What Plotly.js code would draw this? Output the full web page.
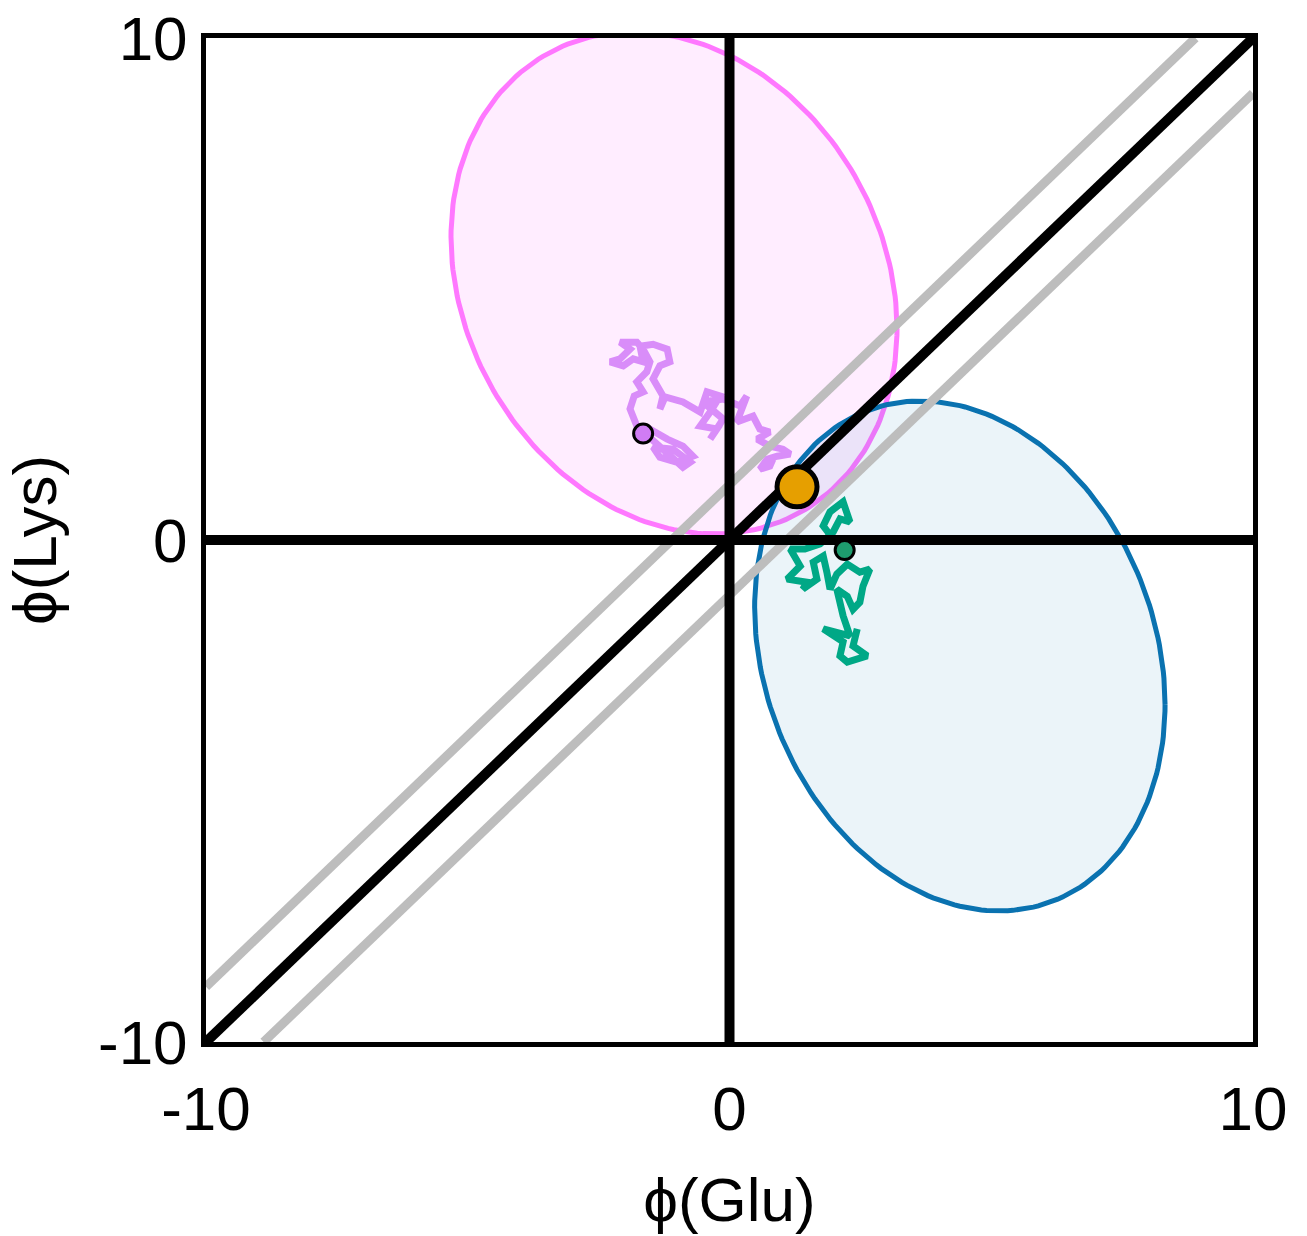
<!DOCTYPE html>
<html>
<head>
<meta charset="utf-8">
<script src="https://cdn.plot.ly/plotly-3.0.1.min.js"></script>
<style>
  html, body { margin: 0; padding: 0; background: #ffffff; }
  #chart { width: 1307px; height: 1236px; }
</style>
</head>
<body>
<div id="chart"></div>
<script>
// ---- data ----
const tickVals = [-10, 0, 10];
const tickText = ['-10', '0', '10'];

// pink (Lys-side) trajectory
const pinkTrajX = [-1.65,-1.52,-1.19,-0.89,-0.70,-1.00,-1.33,-1.46,-1.08,-0.75,-0.89,-1.18,-1.52,-1.77,-1.90,-1.82,-1.65,-1.77,-1.58,-1.52,-1.65,-1.77,-2.09,-1.90,-2.09,-2.28,-2.03,-1.84,-1.65,-1.71,-1.46,-1.19,-1.14,-1.33,-1.46,-1.27,-1.33,-1.23,-0.89,-0.56,-0.43,-0.18,-0.37,-0.56,-0.24,-0.37,-0.12,-0.51,-0.12,0.20,0.33,0.14,0.45,0.58,0.77,0.53,0.77,1.02,1.16,0.91,0.72,0.58,0.77,0.83];
const pinkTrajY = [2.15,2.21,2.01,1.87,1.67,1.55,1.65,1.85,1.81,1.55,1.45,1.71,2.01,2.27,2.61,2.87,2.95,3.15,3.35,3.55,3.80,3.94,3.94,3.80,3.61,3.55,3.47,3.61,3.55,3.86,3.90,3.80,3.55,3.47,3.21,2.87,2.61,2.85,2.75,2.55,2.95,2.87,2.55,2.27,2.21,2.01,2.41,2.75,2.81,2.67,2.87,2.35,2.47,2.21,2.15,2.01,1.87,1.81,1.71,1.67,1.61,1.41,1.47,1.61];

// green (Glu-side) trajectory
const greenTrajX = [2.21,1.98,1.79,1.92,2.17,2.30,2.11,1.98,1.73,1.44,1.16,1.35,1.10,1.48,1.40,1.67,1.60,1.79,1.86,1.92,2.05,2.25,2.49,2.68,2.55,2.49,2.36,2.25,2.05,2.17,2.30,1.79,2.17,2.11,2.25,2.63,2.36,2.44];
const greenTrajY = [-0.20,0.02,0.28,0.56,0.76,0.36,0.42,0.16,-0.08,-0.18,-0.18,-0.52,-0.78,-0.84,-0.98,-0.78,-0.44,-0.32,-0.64,-0.98,-0.68,-0.48,-0.64,-0.58,-0.92,-1.24,-1.38,-1.12,-0.98,-1.51,-1.91,-1.77,-2.03,-2.31,-2.43,-2.31,-2.11,-1.77];

// highlighted points
const pinkDot = {x: [-1.65], y: [2.12]};
const greenDot = {x: [2.20], y: [-0.20]};
const orangeDot = {x: [1.29], y: [1.06]};

// reference lines
const diagX = [-10, 10], diagY = [-10, 10];
const upperBandX = [-10, 8.9], upperBandY = [-8.9, 10];
const lowerBandX = [-8.9, 10], lowerBandY = [-10, 8.9];
const zeroHX = [-10, 10], zeroHY = [0, 0];
const zeroVX = [0, 0], zeroVY = [-10, 10];

// ellipse parameters: centre, horizontal half-extent, vertical half-extent, cross term
const pinkEllipse = {cx: -1.06, cy: 5.12, h: 4.26, v: 5.0, c: -3.9};
const blueEllipse = {cx: 4.40, cy: -2.31, h: 3.92, v: 5.08, c: -3.8};

function ellipsePts(e) {
  const xs = [], ys = [];
  const k = e.c / e.h;
  const s = Math.sqrt(e.v * e.v - k * k);
  for (let i = 0; i <= 240; i++) {
    const t = 2 * Math.PI * i / 240;
    xs.push(e.cx + e.h * Math.cos(t));
    ys.push(e.cy + k * Math.cos(t) + s * Math.sin(t));
  }
  return {x: xs, y: ys};
}

const pE = ellipsePts(pinkEllipse);
const bE = ellipsePts(blueEllipse);

const traces = [
  {x: pE.x, y: pE.y, mode: 'lines', fill: 'toself', fillcolor: 'rgba(255,110,255,0.12)',
   line: {color: '#ff78ff', width: 5}, hoverinfo: 'skip'},
  {x: bE.x, y: bE.y, mode: 'lines', fill: 'toself', fillcolor: 'rgba(0,114,178,0.08)',
   line: {color: '#0a72b0', width: 5}, hoverinfo: 'skip'},
  {x: pinkTrajX, y: pinkTrajY, mode: 'lines', line: {color: '#d98df9', width: 7}},
  {x: greenTrajX, y: greenTrajY, mode: 'lines', line: {color: '#00a886', width: 7}},
  {x: upperBandX, y: upperBandY, mode: 'lines', line: {color: '#bdbdbd', width: 9}},
  {x: lowerBandX, y: lowerBandY, mode: 'lines', line: {color: '#bdbdbd', width: 9}},
  {x: zeroHX, y: zeroHY, mode: 'lines', line: {color: '#000000', width: 10}},
  {x: zeroVX, y: zeroVY, mode: 'lines', line: {color: '#000000', width: 10}},
  {x: diagX, y: diagY, mode: 'lines', line: {color: '#000000', width: 10}},
  {x: pinkDot.x, y: pinkDot.y, mode: 'markers',
   marker: {size: 19, color: '#d07cf4', line: {color: '#000000', width: 3}}},
  {x: greenDot.x, y: greenDot.y, mode: 'markers',
   marker: {size: 19, color: '#1e9c6e', line: {color: '#000000', width: 3}}},
  {x: orangeDot.x, y: orangeDot.y, mode: 'markers',
   marker: {size: 40, color: '#e69f00', line: {color: '#000000', width: 5}}}
];

const fontFam = 'Liberation Sans, Arial, Helvetica, sans-serif';

const layout = {
  width: 1307, height: 1236,
  margin: {l: 206, r: 54, t: 38, b: 194, pad: 0},
  paper_bgcolor: '#ffffff', plot_bgcolor: '#ffffff',
  showlegend: false,
  font: {family: fontFam, color: '#000000', size: 62},
  xaxis: {
    range: [-10, 10], tickvals: tickVals, ticktext: tickText,
    showgrid: false, zeroline: false,
    showline: true, mirror: true, linecolor: '#000000', linewidth: 5,
    ticks: '', ticklabelstandoff: 9,
    tickfont: {size: 62, family: fontFam, color: '#000000'},
    title: {text: 'ϕ(Glu)', font: {size: 62, family: fontFam, color: '#000000'}, standoff: 37},
    layer: 'above traces', automargin: false, fixedrange: true
  },
  yaxis: {
    range: [-10, 10], tickvals: tickVals, ticktext: tickText,
    showgrid: false, zeroline: false,
    showline: true, mirror: true, linecolor: '#000000', linewidth: 5,
    ticks: '', ticklabelstandoff: 1,
    tickfont: {size: 62, family: fontFam, color: '#000000'},
    title: {text: 'ϕ(Lys)', font: {size: 62, family: fontFam, color: '#000000'}, standoff: 35},
    layer: 'above traces', automargin: false, fixedrange: true
  }
};

Plotly.newPlot('chart', traces, layout, {displayModeBar: false, staticPlot: true});
</script>
</body>
</html>
